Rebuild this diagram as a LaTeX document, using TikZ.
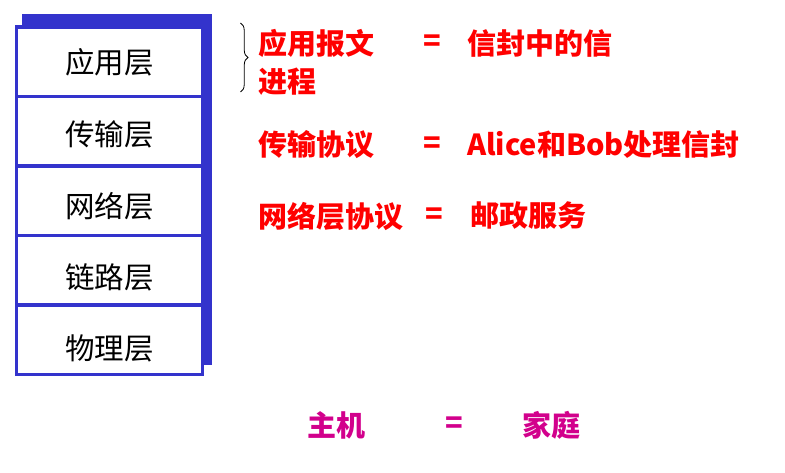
\documentclass[tikz,border=0pt]{standalone}
\usepackage{fontspec}
\setmainfont{Noto Sans CJK SC}
\usetikzlibrary{positioning}
\usetikzlibrary{backgrounds}
\usetikzlibrary{decorations.pathreplacing}
\definecolor{layerblue}{RGB}{51,51,204}
\definecolor{eqred}{RGB}{255,0,0}
\definecolor{hostpink}{RGB}{210,0,140}
\begin{document}
\begin{tikzpicture}[x=1pt,y=-1pt,node distance=0pt,
		font=\fontsize{29.5}{34}\selectfont]
		\tikzstyle{layer}=[draw=layerblue,line width=3.5pt,fill=white,outer sep=0pt,
			minimum width=186pt,minimum height=69.5pt,inner sep=0pt]
		\tikzstyle{analog}=[text=eqred,font=\fontsize{29}{34}\selectfont\bfseries,
			anchor=west,inner sep=0pt]
		\useasboundingbox (0,0) rectangle (785,473);
		
		\node[layer,label={[yshift=-0.5pt]center:应用层}] (app)   at (109.5,61.75) {};
		\node[layer,label={[yshift=-3pt]center:传输层}]   (trans) [below=of app]   {};
		\node[layer,label={[yshift=-5pt]center:网络层}]   (net)   [below=of trans] {};
		\node[layer,label={[yshift=-7pt]center:链路层}]   (link)  [below=of net]   {};
		\node[layer,label={[yshift=-9pt]center:物理层}]   (phys)  [below=of link]  {};
		
		\begin{scope}[on background layer]
		\filldraw[layerblue,line width=3.5pt] ([shift={(7.5,-11)}]app.north west)
			rectangle ([shift={(7.5,-11)}]phys.south east);
		\end{scope}
		
		\coordinate (braceTop) at (240.5,23);
		\coordinate (braceBot) at (240.5,92);
		\draw[line width=0.8pt,decorate,decoration={brace,amplitude=7.5pt}] (braceTop) -- (braceBot);
		
		\node[analog]        (msg)    at (258,43)  {应用报文};
		\node[analog]        (msgEq)  at (423,43)  {=};
		\node[analog]        (msgAna) at (467,43)  {信封中的信};
		\node[analog]        (proc)   at (258,82)  {进程};
		
		\node[analog]        (tp)     at (258,145) {传输协议};
		\node[analog]        (tpEq)   at (423,145) {=};
		\node[analog]        (tpAna)  at (467,145) {Alice和Bob处理信封};
		
		\node[analog]        (np)     at (258,216) {网络层协议};
		\node[analog]        (npEq)   at (425,216) {=};
		\node[analog]        (npAna)  at (470,216) {邮政服务};
		
		\node[analog,text=hostpink] (host)    at (307,425) {主机};
		\node[analog,text=hostpink] (hostEq)  at (445,425) {=};
		\node[analog,text=hostpink] (hostAna) at (522,425) {家庭};
\end{tikzpicture}
\end{document}
